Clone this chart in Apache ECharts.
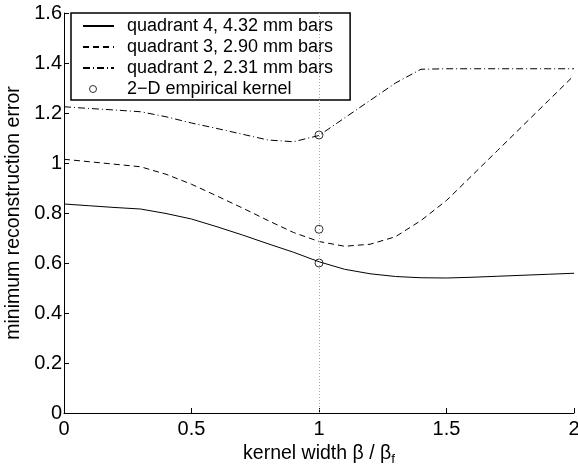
<!DOCTYPE html>
<html><head><meta charset="utf-8">
<script src="https://cdn.jsdelivr.net/npm/echarts@6/dist/echarts.min.js"></script>
<style>html,body{margin:0;padding:0;background:#fff}#c{width:578px;height:466px}</style>
</head><body><div id="c"></div>
<script>
const xs = [0, 0.1, 0.2, 0.3, 0.4, 0.5, 0.6, 0.7, 0.8, 0.9, 1.0, 1.1, 1.2, 1.3, 1.4, 1.5, 1.6, 1.7, 1.8, 1.9, 2.0];
const q4 = [0.836, 0.829, 0.822, 0.816, 0.798, 0.776, 0.745, 0.712, 0.677, 0.643, 0.605, 0.575, 0.557, 0.546, 0.541, 0.540, 0.543, 0.547, 0.551, 0.555, 0.559];
const q3 = [1.015, 1.005, 0.995, 0.985, 0.955, 0.915, 0.868, 0.82, 0.77, 0.722, 0.686, 0.667, 0.675, 0.705, 0.77, 0.85, 0.95, 1.05, 1.15, 1.25, 1.35];
const q2 = [1.225, 1.218, 1.212, 1.205, 1.185, 1.16, 1.138, 1.115, 1.092, 1.085, 1.11, 1.18, 1.25, 1.32, 1.375, 1.377, 1.377, 1.377, 1.377, 1.377, 1.377];
const kernelX = [1, 1, 1];
const kernelY = [0.60, 0.735, 1.112];
const xTicks = [0, 0.5, 1, 1.5, 2];
const yTicks = [0, 0.2, 0.4, 0.6, 0.8, 1, 1.2, 1.4, 1.6];
const names = ['quadrant 4, 4.32 mm bars', 'quadrant 3, 2.90 mm bars', 'quadrant 2, 2.31 mm bars', '2\u2212D empirical kernel'];

const pair = (a, b) => a.map((v, i) => [v, b[i]]);
const font = 'Liberation Sans, Arial, Helvetica, sans-serif';
const chart = echarts.init(document.getElementById('c'), null, {renderer: 'canvas'});
const lineSeries = (name, ys, type) => ({
  name, type: 'line', data: pair(xs, ys), symbol: 'none', smooth: false,
  lineStyle: {color: '#000', width: 1, type}, itemStyle: {color: '#000'}, z: 3
});
const hideSym = {opacity: 0};
chart.setOption({
  animation: false,
  textStyle: {fontFamily: font},
  grid: {left: 64, right: 4, top: 13, bottom: 53, containLabel: false, outerBoundsMode: 'none'},
  xAxis: {
    type: 'value', min: 0, max: 2, interval: 0.5,
    axisLine: {lineStyle: {color: '#000', width: 1}},
    axisTick: {inside: true, length: 5, lineStyle: {color: '#000'}},
    axisLabel: {color: '#000', fontSize: 20, margin: 6, fontFamily: font, hideOverlap: false,
      formatter: v => xTicks.includes(v) ? String(v) : ''},
    splitLine: {show: false},
    name: '{a|kernel width \u03b2 / \u03b2}{b|f}',
    nameLocation: 'middle', nameGap: 24,
    nameTextStyle: {rich: {a: {fontSize: 19.5, lineHeight: 24, color: '#000', fontFamily: font},
                          b: {fontSize: 13.5, lineHeight: 2, color: '#000', fontFamily: font, verticalAlign: 'bottom'}}}
  },
  yAxis: {
    type: 'value', min: 0, max: 1.6, interval: 0.2,
    axisLine: {show: true, lineStyle: {color: '#000', width: 1}},
    axisTick: {show: true, inside: true, length: 5, lineStyle: {color: '#000'}},
    axisLabel: {color: '#000', fontSize: 20, margin: 2, fontFamily: font,
      formatter: v => { const t = yTicks.find(k => Math.abs(k - v) < 1e-6); return t === undefined ? '' : String(t); }},
    splitLine: {show: false},
    name: 'minimum reconstruction error', nameLocation: 'middle', nameGap: 30,
    nameTextStyle: {fontSize: 19.5, color: '#000', fontFamily: font}
  },
  legend: {
    orient: 'vertical', left: 71, top: 13,
    borderColor: '#000', borderWidth: 1.5, backgroundColor: '#fff',
    padding: [4, 17, 2, 11], itemGap: 3, itemWidth: 31, itemHeight: 14,
    textStyle: {fontSize: 18, lineHeight: 18, color: '#000', fontFamily: font, padding: [0, 0, 0, 8]},
    data: [
      {name: names[0], itemStyle: hideSym},
      {name: names[1], itemStyle: hideSym},
      {name: names[2], itemStyle: hideSym},
      {name: names[3], icon: 'path://M0,0M31,14M13.5,7A3.5,3.5,0,1,1,6.5,7A3.5,3.5,0,1,1,13.5,7Z',
       itemStyle: {color: '#fff', borderColor: '#000', borderWidth: 1}}]
  },
  series: [
    lineSeries(names[0], q4, 'solid'),
    lineSeries(names[1], q3, [6, 4]),
    lineSeries(names[2], q2, [7, 3, 1, 3]),
    {
      name: 'vline', type: 'line', data: [], symbol: 'none',
      markLine: {silent: true, symbol: 'none', label: {show: false}, animation: false,
        lineStyle: {color: '#aaa', type: [1, 2], width: 1},
        data: [[{coord: [1, 0]}, {coord: [1, 1.6]}]]}
    },
    {
      name: names[3], type: 'scatter', data: pair(kernelX, kernelY),
      symbol: 'circle', symbolSize: 8,
      itemStyle: {color: 'rgba(0,0,0,0)', borderColor: '#000', borderWidth: 1}, z: 4
    }
  ]
});
</script></body></html>
